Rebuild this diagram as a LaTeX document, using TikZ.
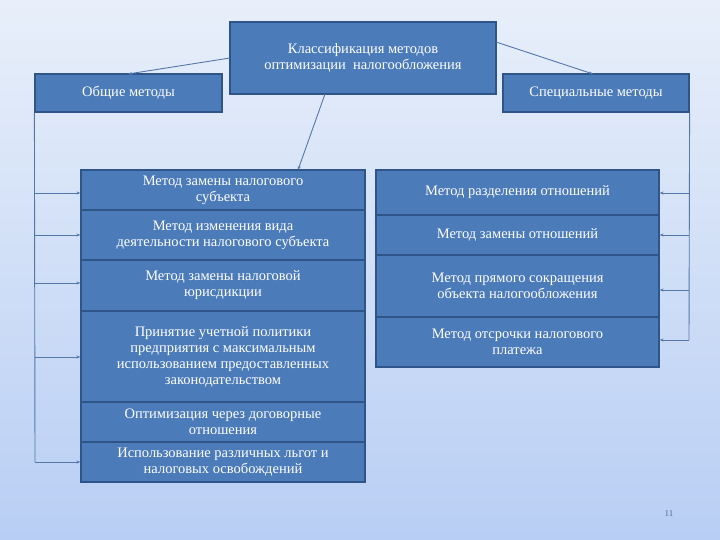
\documentclass[tikz,border=0pt]{standalone}
\usepackage{fontspec}
\usetikzlibrary{arrows.meta}
\setmainfont{Liberation Serif}
\begin{document}
\begin{tikzpicture}[x=1pt,y=-1pt,
  bx/.style={draw=boxline,line width=1.2pt,fill=boxfill,text=white,align=center,font=\fontsize{14.5}{16}\selectfont,inner sep=1pt},
  ln/.style={draw=lnc,line width=0.9pt},
  ar/.style={ln,-{Stealth[length=4pt,width=3pt]}}]
\definecolor{boxfill}{HTML}{4B7BB8}
\definecolor{boxline}{HTML}{2F5487}
\definecolor{lnc}{HTML}{5478A8}
\shade[top color={rgb,255:red,232;green,239;blue,250},bottom color={rgb,255:red,184;green,206;blue,244}] (0,0) rectangle (720,540);
\useasboundingbox (0,0) rectangle (720,540);
\newcommand{\bxat}[6]{\node[bx,minimum width={#3-#1},minimum height={#4-#2}] (#5) at ({(#1+#3)/2},{(#2+#4)/2}) {#6};}
\bxat{230}{22}{496}{94}{top}{Классификация методов\\оптимизации\ \ налогообложения}
\bxat{35}{74}{222}{112}{gen}{Общие методы}
\bxat{503}{74}{689}{112}{spec}{Специальные методы}
\bxat{81}{170}{365}{210}{l1}{Метод замены налогового\\субъекта}
\bxat{81}{210}{365}{260}{l2}{Метод изменения вида\\деятельности налогового субъекта}
\bxat{81}{260}{365}{311}{l3}{Метод замены налоговой\\юрисдикции}
\bxat{81}{311}{365}{402}{l4}{Принятие учетной политики\\предприятия с максимальным\\использованием предоставленных\\законодательством}
\bxat{81}{402}{365}{442}{l5}{Оптимизация через договорные\\отношения}
\bxat{81}{442}{365}{482}{l6}{Использование различных льгот и\\налоговых освобождений}
\bxat{376}{170}{659}{215}{r1}{Метод разделения отношений}
\bxat{376}{215}{659}{255}{r2}{Метод замены отношений}
\bxat{376}{255}{659}{317}{r3}{Метод прямого сокращения\\объекта налогообложения}
\bxat{376}{317}{659}{367}{r4}{Метод отсрочки налогового\\платежа}
\coordinate (t1) at (230,58); \coordinate (g1) at (128,74);
\draw[ar] (t1) -- (g1);
\coordinate (t2) at (496,42); \coordinate (s1) at (593,74);
\draw[ar] (t2) -- (s1);
\coordinate (t3) at (325,94); \coordinate (c1) at (298,170);
\draw[ar] (t3) -- (c1);
\draw[ln] (gen.south west) -- (35,462);
\foreach \n/\y in {l1/193,l2/235,l3/283,l4/357,l6/462}{\draw[ar] (35,\y) -- (\n.west |- 0,\y);}
\draw[ln] (spec.south east) -- (689,340);
\foreach \n/\y in {r1/193,r2/235,r3/290,r4/340}{\draw[ar] (689,\y) -- (\n.east |- 0,\y);}
\node[text={rgb,255:red,90;green,110;blue,150},font=\fontsize{9}{10}\selectfont] (pg) at (669,514) {11};
\end{tikzpicture}
\end{document}
